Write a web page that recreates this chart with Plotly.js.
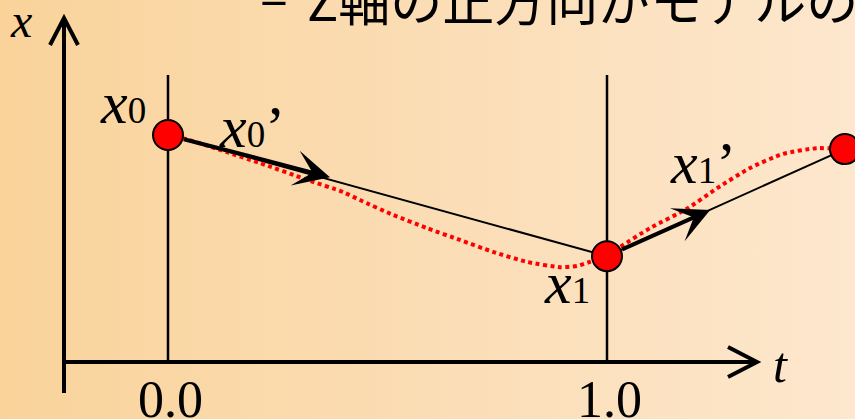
<!DOCTYPE html>
<html><head><meta charset="utf-8">
<script src="https://cdn.plot.ly/plotly-3.0.1.min.js"></script>
<style>
html,body{margin:0;padding:0;background:#fff;}
#chart{width:855px;height:419px;background:linear-gradient(to right,#F9D39A 0%,#FBDDB5 50%,#FDE7CD 100%);}
</style></head><body><div id="chart"></div>
<script>
// key frames (time t, value x)
const keyT = [0, 1, 1.542];
const keyX = [0.517, 0.241, 0.485];
// tangent arrow end points for x0' and x1'
const tanT = [0.369, 1.235];
const tanX = [0.421, 0.346];
// interpolated (red dotted) curve
const curveT = [0, 0.034, 0.134, 0.210, 0.317, 0.399, 0.437, 0.513, 0.590, 0.665, 0.740, 0.818, 0.893, 0.932, 0.961, 1.000, 1.030, 1.098, 1.182, 1.251, 1.326, 1.401, 1.478, 1.542];
const curveX = [0.517, 0.510, 0.478, 0.453, 0.415, 0.387, 0.369, 0.335, 0.305, 0.278, 0.251, 0.228, 0.216, 0.219, 0.228, 0.241, 0.262, 0.305, 0.349, 0.396, 0.442, 0.474, 0.487, 0.485];
// tick labels
const tickVals = [0, 1];
const tickText = ['0.0', '1.0'];
// labels
const keyLabels = ['<i>x</i><span style="font-size:37px">0</span>', '<i>x</i><span style="font-size:37px">1</span>'];
const tanLabels = ['<i>x</i><span style="font-size:37px">0</span>\u2019', '<i>x</i><span style="font-size:37px">1</span>\u2019'];
const axisLabelX = '<i>x</i>';
const axisLabelT = '<i>t</i>';
const titleDash = '\u2013';
const titleText = 'Z軸の正方向がモデルの前方';

// layout constants (pixel geometry of the slide)
const W = 855, H = 419, S = 439;           // px per unit
const T0PX = 168, X0PY = 362;              // origin (t=0, x=0) pixels
const tRange = [-T0PX / S, (W - T0PX) / S];
const xRange = [-(H - X0PY) / S, X0PY / S];
const axisLeftT = (64 - T0PX) / S;
const axisRightT = (757 - T0PX) / S;
const axisTopX = (X0PY - 18) / S;
const axisBottomX = (X0PY - 393) / S;
const guideTopX = (X0PY - 75) / S;

const serif = 'Liberation Serif, Times New Roman, serif';

const traces = [
  { // vertical guide lines at key times
    x: [tickVals[0], tickVals[0], null, tickVals[1], tickVals[1]],
    y: [0, guideTopX, null, 0, guideTopX],
    mode: 'lines', line: {color: '#000', width: 2.5}, hoverinfo: 'skip'
  },
  { // linear interpolation
    x: keyT, y: keyX, mode: 'lines', line: {color: '#000', width: 2}, hoverinfo: 'skip'
  },
  { // smooth interpolation
    x: curveT, y: curveX, mode: 'lines',
    line: {color: '#FF0000', width: 4, dash: '4px,3.5px', shape: 'spline', smoothing: 0.6}, hoverinfo: 'skip'
  },
  { // key points
    x: keyT, y: keyX, mode: 'markers', cliponaxis: false,
    marker: {size: 30, color: '#FF0000', line: {color: '#000', width: 2}}, hoverinfo: 'skip'
  }
];

const shapes = [
  {type: 'line', xref: 'x', yref: 'y', x0: axisLeftT, x1: axisLeftT, y0: axisBottomX, y1: axisTopX, line: {color: '#000', width: 4}},
  {type: 'line', xref: 'x', yref: 'y', x0: axisLeftT, x1: axisRightT, y0: 0, y1: 0, line: {color: '#000', width: 4}},
  {type: 'path', xref: 'x', yref: 'y', xsizemode: 'pixel', ysizemode: 'pixel', xanchor: axisRightT, yanchor: 0,
   path: 'M-29,15 L0,0 L-29,-15', line: {color: '#000', width: 4}},
  {type: 'path', xref: 'x', yref: 'y', xsizemode: 'pixel', ysizemode: 'pixel', xanchor: axisLeftT, yanchor: axisTopX,
   path: 'M-14,-27 L0,0 L14,-27', line: {color: '#000', width: 4}}
];

const annotations = [];
// tangent arrows
for (let i = 0; i < 2; i++) {
  annotations.push({
    x: tanT[i], y: tanX[i], xref: 'x', yref: 'y', ax: keyT[i], ay: keyX[i], axref: 'x', ayref: 'y',
    text: '', showarrow: true, arrowhead: 3, arrowsize: 1.5, arrowwidth: 4, arrowcolor: '#000',
    standoff: 0, startstandoff: 15
  });
}
// key labels
annotations.push({x: keyT[0], y: keyX[0], xref: 'x', yref: 'y', text: keyLabels[0], showarrow: false,
  xanchor: 'right', yanchor: 'middle', xshift: -20, yshift: 32, font: {family: serif, size: 60, color: '#000'}});
annotations.push({x: keyT[1], y: keyX[1], xref: 'x', yref: 'y', text: keyLabels[1], showarrow: false,
  xanchor: 'right', yanchor: 'middle', xshift: -15, yshift: -27, font: {family: serif, size: 60, color: '#000'}});
annotations.push({x: keyT[0], y: keyX[0], xref: 'x', yref: 'y', text: tanLabels[0], showarrow: false,
  xanchor: 'left', yanchor: 'middle', xshift: 49, yshift: 8, font: {family: serif, size: 60, color: '#000'}});
annotations.push({x: keyT[1], y: keyX[1], xref: 'x', yref: 'y', text: tanLabels[1], showarrow: false,
  xanchor: 'left', yanchor: 'middle', xshift: 61, yshift: 93, font: {family: serif, size: 60, color: '#000'}});
// tick labels
for (let i = 0; i < tickVals.length; i++) {
  annotations.push({x: tickVals[i], y: 0, xref: 'x', yref: 'y', text: tickText[i], showarrow: false,
    xanchor: 'center', yanchor: 'middle', xshift: 2, yshift: -37, font: {family: serif, size: 52, color: '#000'}});
}
// axis labels
annotations.push({x: axisLeftT, y: axisTopX, xref: 'x', yref: 'y', text: axisLabelX, showarrow: false,
  xanchor: 'right', yanchor: 'middle', xshift: -30, yshift: -2, font: {family: serif, size: 48, color: '#000'}});
annotations.push({x: axisRightT, y: 0, xref: 'x', yref: 'y', text: axisLabelT, showarrow: false,
  xanchor: 'left', yanchor: 'middle', xshift: 14, yshift: -3, font: {family: serif, size: 50, color: '#000'}});
// title fragment
annotations.push({x: 258 / W, y: 1, xref: 'paper', yref: 'paper', text: titleDash, showarrow: false,
  xanchor: 'left', yanchor: 'middle', yshift: 5, font: {family: 'Noto Sans CJK JP', size: 52, color: '#000'}});
annotations.push({x: 305 / W, y: 1, xref: 'paper', yref: 'paper', text: titleText, showarrow: false,
  xanchor: 'left', yanchor: 'middle', yshift: 2, font: {family: 'Noto Sans CJK JP', size: 52, color: '#000'}});

const layout = {
  width: W, height: H,
  margin: {l: 0, r: 0, t: 0, b: 0, pad: 0},
  paper_bgcolor: 'rgba(0,0,0,0)', plot_bgcolor: 'rgba(0,0,0,0)',
  showlegend: false,
  xaxis: {range: tRange, visible: false, fixedrange: true},
  yaxis: {range: xRange, visible: false, fixedrange: true},
  shapes: shapes, annotations: annotations
};

Plotly.newPlot('chart', traces, layout, {displayModeBar: false, staticPlot: true});
</script></body></html>
